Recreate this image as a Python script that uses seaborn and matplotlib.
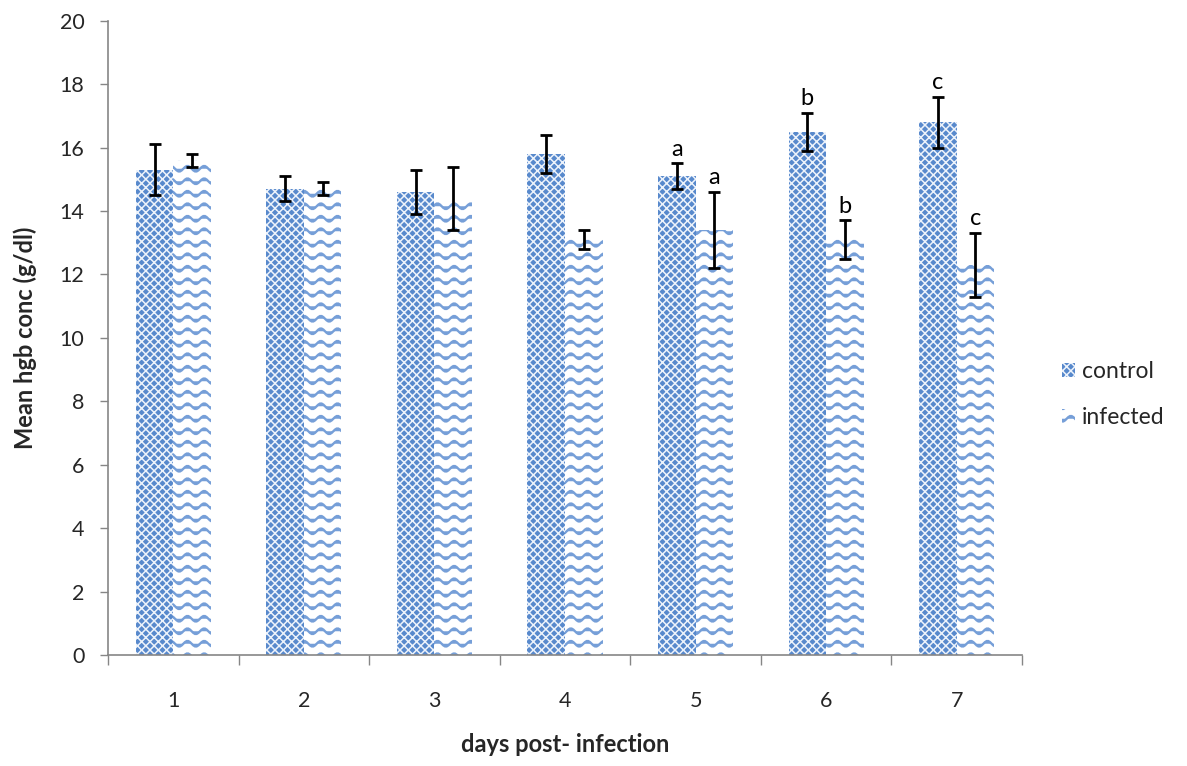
import numpy as np
import pandas as pd
import matplotlib
matplotlib.use("Agg")
import matplotlib.pyplot as plt
from matplotlib import hatch as mhatch
from matplotlib.patches import Patch
from matplotlib.ticker import FixedLocator, NullFormatter
import seaborn as sns

# ---- data -------------------------------------------------------------
days = ["1", "2", "3", "4", "5", "6", "7"]
control_mean = [15.3, 14.7, 14.6, 15.8, 15.1, 16.5, 16.8]
control_err = [0.8, 0.4, 0.7, 0.6, 0.4, 0.6, 0.8]
infected_mean = [15.6, 14.7, 14.4, 13.1, 13.4, 13.1, 12.3]
infected_err = [0.2, 0.2, 1.0, 0.3, 1.2, 0.6, 1.0]
control_letters = ["", "", "", "", "a", "b", "c"]
infected_letters = ["", "", "", "", "a", "b", "c"]
groups = ["control", "infected"]
y_ticks = [0, 2, 4, 6, 8, 10, 12, 14, 16, 18, 20]


# ---- a wavy-line hatch ("~") ------------------------------------------
class WaveHatch(mhatch.HatchPatternBase):
    ROWS = 8        # wave rows per hatch cell
    PERIODS = 6     # wave periods per hatch cell
    PTS = 10        # points per period

    def __init__(self, hatch, density):
        n = hatch.count("~")
        self.num_rows = self.ROWS if n else 0
        self.npts = self.PERIODS * self.PTS + 1
        self.num_vertices = self.num_rows * self.npts

    def set_vertices_and_codes(self, vertices, codes):
        x = np.linspace(0.0, 1.0, self.npts)
        amp = 0.028
        for r in range(self.num_rows):
            y0 = (r + 0.5) / self.num_rows
            y = y0 + amp * np.sin(2 * np.pi * self.PERIODS * x)
            sl = slice(r * self.npts, (r + 1) * self.npts)
            vertices[sl, 0] = x
            vertices[sl, 1] = y
            codes[sl] = mhatch.Path.LINETO
            codes[r * self.npts] = mhatch.Path.MOVETO


if WaveHatch not in mhatch._hatch_types:
    mhatch._hatch_types.append(WaveHatch)

# ---- style ------------------------------------------------------------
sns.set_theme(style="white")
plt.rcParams["font.family"] = ["Lato", "DejaVu Sans"]
plt.rcParams["hatch.linewidth"] = 1.5

AXIS_GREY = "#868686"
styles = {
    "control": dict(face="#5889cc", hatch="xxxx", hcolor="#edf3fb", hlw=1.1),
    "infected": dict(face="white", hatch="~", hcolor="#769fd8", hlw=1.7),
}


def style_patch(p, st):
    p.set_facecolor(st["face"])
    p.set_edgecolor(st["hcolor"])
    p.set_hatch(st["hatch"])
    p.set_linewidth(0)
    if hasattr(p, "set_hatch_linewidth"):
        p.set_hatch_linewidth(st["hlw"])


df = pd.DataFrame({
    "day": days * 2,
    "group": ["control"] * len(days) + ["infected"] * len(days),
    "hgb": control_mean + infected_mean,
})

fig = plt.figure(figsize=(11.87, 7.66), dpi=100)
ax = fig.add_axes([0.091, 0.145, 0.770, 0.828])

sns.barplot(data=df, x="day", y="hgb", hue="group", order=days,
            hue_order=groups, width=0.575, gap=0, errorbar=None,
            legend=False, ax=ax, saturation=1)

errs = {"control": control_err, "infected": infected_err}
means = {"control": control_mean, "infected": infected_mean}
letters = {"control": control_letters, "infected": infected_letters}

for cont, g in zip(ax.containers, groups):
    xs = []
    for bar in cont:
        style_patch(bar, styles[g])
        xs.append(bar.get_x() + bar.get_width() / 2)
    ax.errorbar(xs, means[g], yerr=errs[g], fmt="none", ecolor="black",
                elinewidth=2.0, capsize=4, capthick=2.0, zorder=5)
    for x, m, e, t in zip(xs, means[g], errs[g], letters[g]):
        if t:
            ax.text(x, m + e + 0.12, t, ha="center", va="bottom",
                    fontsize=17, color="black", zorder=6)

# ---- axes -------------------------------------------------------------
ax.set_xlim(-0.5, len(days) - 0.5)
ax.set_ylim(0, 20)
ax.set_yticks(y_ticks)
ax.set_yticklabels([str(v) for v in y_ticks], fontsize=15.5)
ax.set_xlabel("")
ax.set_ylabel("")

# tick marks between categories, labels at category centres
ax.xaxis.set_major_locator(FixedLocator(np.arange(-0.5, len(days), 1.0)))
ax.xaxis.set_major_formatter(NullFormatter())
ax.xaxis.set_minor_locator(FixedLocator(np.arange(len(days))))
ax.set_xticklabels(days, minor=True, fontsize=15.5)
ax.tick_params(axis="x", which="major", length=7, width=1, color=AXIS_GREY,
               direction="out", bottom=True)
ax.tick_params(axis="x", which="minor", length=0, pad=26, bottom=True)
ax.tick_params(axis="y", which="major", length=6, width=1, color=AXIS_GREY,
               direction="out", left=True, pad=11)

for s in ["top", "right"]:
    ax.spines[s].set_visible(False)
for s in ["left", "bottom"]:
    ax.spines[s].set_color(AXIS_GREY)
    ax.spines[s].set_linewidth(1.2)

fig.text(565 / 1187, 1 - 745 / 766, "days post- infection", ha="center",
         va="center", fontsize=17, fontweight="bold")
fig.text(25 / 1187, 1 - 338 / 766, "Mean hgb conc (g/dl)", ha="center",
         va="center", rotation=90, fontsize=17, fontweight="bold")

handles = []
for g in groups:
    h = Patch(label=g)
    style_patch(h, styles[g])
    handles.append(h)
leg = fig.legend(handles=handles, loc="center left",
                 bbox_to_anchor=(0.877, 0.485), frameon=False, fontsize=16.5,
                 handlelength=0.6, handleheight=0.6, handletextpad=0.3,
                 labelspacing=1.1)
for lp, g in zip(leg.get_patches(), groups):
    style_patch(lp, styles[g])

fig.savefig("out.png", dpi=100)
